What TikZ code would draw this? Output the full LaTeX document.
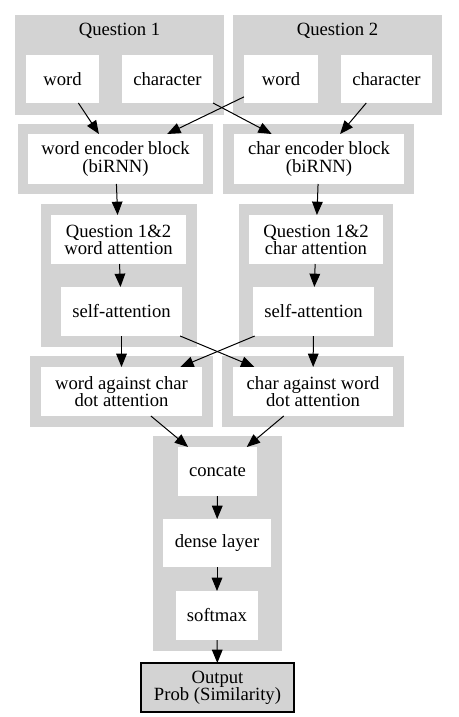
\documentclass[tikz,border=0pt]{standalone}
\usepackage{fontspec}
\setmainfont{Liberation Serif}
\usetikzlibrary{arrows.meta}
\definecolor{clustergray}{HTML}{D3D3D3}
\tikzset{
  cluster/.style={fill=clustergray},
  box/.style={fill=white, inner sep=0pt, outer sep=0pt, align=center, font=\fontsize{14}{12.8}\selectfont},
  boxsize/.style 2 args={minimum width=#1*0.75pt, minimum height=#2*0.75pt},
  edge/.style={-{Triangle[length=10pt,width=8pt]}, line width=0.75pt},
}
\begin{document}
\begin{tikzpicture}[x=0.75pt, y=-0.75pt]
  \useasboundingbox (0,0) rectangle (459,717);

  % clusters
  \fill[cluster] (15,15) rectangle (224,115);
  \fill[cluster] (233,15) rectangle (442,115);
  \fill[cluster] (18,124) rectangle (213,194);
  \fill[cluster] (223,124) rectangle (414,194);
  \fill[cluster] (41,204) rectangle (197,347);
  \fill[cluster] (239,204) rectangle (393,347);
  \fill[cluster] (30,356) rectangle (213,427);
  \fill[cluster] (222,356) rectangle (404,427);
  \fill[cluster] (153,436) rectangle (282,651);
  \node[box, fill=none] (qAlabel) at (119.5,31) {Question 1};
  \node[box, fill=none] (qBlabel) at (337.5,31) {Question 2};

  % inputs
  \node[box, boxsize={73}{48}] (qAword) at (62.5,79) {word};
  \node[box, boxsize={91}{48}] (qAchar) at (167.5,79) {character};
  \node[box, boxsize={74}{48}] (qBword) at (281,79) {word};
  \node[box, boxsize={91}{48}] (qBchar) at (386.5,79) {character};

  % encoders
  \node[box, boxsize={175}{50}] (wordenc) at (115.5,159) {word encoder block\\(biRNN)};
  \node[box, boxsize={170}{50}] (charenc) at (319,159) {char encoder block\\(biRNN)};

  % attention
  \node[box, boxsize={135}{49}] (wordatt) at (118.5,239.5) {Question 1\&2\\word attention};
  \node[box, boxsize={134}{49}] (charatt) at (316,239.5) {Question 1\&2\\char attention};
  \node[box, boxsize={121}{49}] (wordself) at (121.5,311.5) {self-attention};
  \node[box, boxsize={121}{49}] (charself) at (313.5,311.5) {self-attention};

  % dot attention
  \node[box, boxsize={161}{49}] (worddot) at (121.5,391.5) {word against char\\dot attention};
  \node[box, boxsize={160}{49}] (chardot) at (313,391.5) {char against word\\dot attention};

  % head
  \node[box, boxsize={79}{49}] (concat) at (217.5,471.5) {concate};
  \node[box, boxsize={108}{48}] (dense) at (217,543) {dense layer};
  \node[box, boxsize={82}{49}] (softmax) at (217,615.5) {softmax};
  \node[box, boxsize={153}{49}, fill=clustergray, draw=black, line width=1pt] (output) at (217.5,687.5) {Output\\Prob (Similarity)};

  \draw[edge] (qAword) -- (wordenc);
  \draw[edge] (qBword) -- (wordenc);
  \draw[edge] (qAchar) -- (charenc);
  \draw[edge] (qBchar) -- (charenc);
  \draw[edge] (wordenc) -- (wordatt);
  \draw[edge] (charenc) -- (charatt);
  \draw[edge] (wordatt) -- (wordself);
  \draw[edge] (charatt) -- (charself);
  \draw[edge] (wordself) -- (worddot);
  \draw[edge] (wordself) -- (chardot);
  \draw[edge] (charself) -- (worddot);
  \draw[edge] (charself) -- (chardot);
  \draw[edge] (worddot) -- (concat);
  \draw[edge] (chardot) -- (concat);
  \draw[edge] (concat) -- (dense);
  \draw[edge] (dense) -- (softmax);
  \draw[edge] (softmax) -- (output);
\end{tikzpicture}
\end{document}
